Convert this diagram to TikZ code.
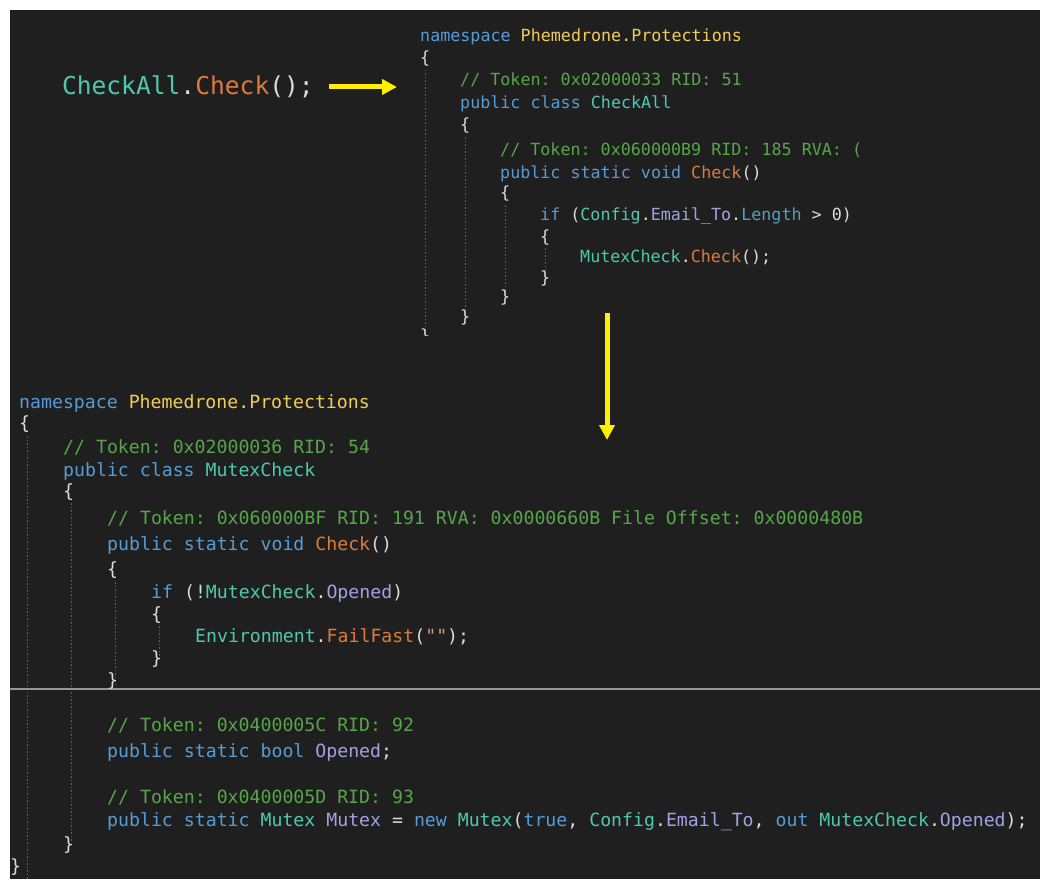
\documentclass[tikz,border=0pt]{standalone}
\usepackage{fontspec}
\newfontfamily\codefont{DejaVu Sans Mono}
\usetikzlibrary{arrows.meta}
\definecolor{bgdark}{RGB}{31,31,31}
\definecolor{kwblue}{RGB}{86,156,214}
\definecolor{cmgreen}{RGB}{87,166,74}
\definecolor{tyteal}{RGB}{78,201,176}
\definecolor{mtorange}{RGB}{222,122,60}
\definecolor{nsyellow}{RGB}{240,205,90}
\definecolor{fdlav}{RGB}{165,160,228}
\definecolor{lenblue}{RGB}{80,160,190}
\definecolor{strbrown}{RGB}{214,157,133}
\definecolor{plain}{RGB}{220,220,220}
\definecolor{arrowyellow}{RGB}{255,240,0}
\definecolor{guidegray}{RGB}{95,95,95}
\definecolor{divgray}{RGB}{150,150,150}
\newcommand{\ckw}[1]{\textcolor{kwblue}{#1}}
\newcommand{\ccm}[1]{\textcolor{cmgreen}{#1}}
\newcommand{\cty}[1]{\textcolor{tyteal}{#1}}
\newcommand{\cmt}[1]{\textcolor{mtorange}{#1}}
\newcommand{\cns}[1]{\textcolor{nsyellow}{#1}}
\newcommand{\cfd}[1]{\textcolor{fdlav}{#1}}
\newcommand{\clen}[1]{\textcolor{lenblue}{#1}}
\newcommand{\cstr}[1]{\textcolor{strbrown}{#1}}
\frenchspacing
\tikzstyle{topcode} = [anchor=base west, 
inner sep=0pt, 
text=plain, 
font=\codefont\frenchspacing\fontsize{16.7}{20}\selectfont]
\tikzstyle{botcode} = [anchor=base west, 
inner sep=0pt, 
text=plain, 
font=\codefont\frenchspacing\fontsize{18.2}{22}\selectfont]
\tikzstyle{callcode} = [anchor=base west, 
inner sep=0pt, 
outer xsep=15pt, 
text=plain, 
font=\codefont\fontsize{24.6}{28}\selectfont]
\tikzstyle{guide} = [draw=guidegray, line width=1pt, dash pattern=on 1.5pt off 2pt]
\tikzstyle{divider} = [draw=divgray, line width=2.5pt]
\tikzstyle{yarrow} = [line width=5pt, draw=arrowyellow, -{Triangle[length=15pt,width=15pt]}]

\begin{document}
\begin{tikzpicture}[x=1pt, y=-1pt]
		\useasboundingbox (0,0) rectangle (1054,888);
		\fill [bgdark] (10,10) rectangle (1040,879);
		% indent guides
		\draw [guide] (425,70) -- (425,336);
		\draw [guide] (465,137) -- (465,316);
		\draw [guide] (505,205) -- (505,296);
		\draw [guide] (545,248) -- (545,276);
		\draw [guide] (27,436) -- (27,879);
		\draw [guide] (71,503) -- (71,842);
		\draw [guide] (115,582) -- (115,684);
		\draw [guide] (159,626) -- (159,656);
		\draw [divider] (10,689) -- (1040,689);

		\node (call) [callcode] at (47,95) {\cty{CheckAll}.\cmt{Check}();};

		\node (t0) [topcode] at (420,41.5) {\ckw{namespace} \cns{Phemedrone.Protections}};
		\node (t1) [topcode] at (420,63.5) {\{};
		\node (t2) [topcode] at (460,85.5) {\ccm{// Token: 0x02000033 RID: 51}};
		\node (t3) [topcode] at (460,108.5) {\ckw{public class} \cty{CheckAll}};
		\node (t4) [topcode] at (460,130.5) {\{};
		\node (t5) [topcode] at (500,155.5) {\ccm{// Token: 0x060000B9 RID: 185 RVA: (}};
		\node (t6) [topcode] at (500,178.5) {\ckw{public static void} \cmt{Check}()};
		\node (t7) [topcode] at (500,198.5) {\{};
		\node (t8) [topcode] at (540,220.5) {\ckw{if} (\cty{Config}.\cfd{Email\_To}.\clen{Length} > 0)};
		\node (t9) [topcode] at (540,242.5) {\{};
		\node (t10) [topcode] at (580,262.5) {\cty{MutexCheck}.\cmt{Check}();};
		\node (t11) [topcode] at (540,283.5) {\}};
		\node (t12) [topcode] at (500,302.5) {\}};
		\node (t13) [topcode] at (460,322.5) {\}};
		\begin{scope}
			\clip (410,326) rectangle (440,335);
			\node (t14) [topcode] at (420,341) {\}};
		\end{scope}

		\node (b0) [botcode] at (19,408) {\ckw{namespace} \cns{Phemedrone.Protections}};
		\node (b1) [botcode] at (19,429) {\{};
		\node (b2) [botcode] at (63,453) {\ccm{// Token: 0x02000036 RID: 54}};
		\node (b3) [botcode] at (63,476) {\ckw{public class} \cty{MutexCheck}};
		\node (b4) [botcode] at (63,497) {\{};
		\node (b5) [botcode] at (107,524) {\ccm{// Token: 0x060000BF RID: 191 RVA: 0x0000660B File Offset: 0x0000480B}};
		\node (b6) [botcode] at (107,550) {\ckw{public static void} \cmt{Check}()};
		\node (b7) [botcode] at (107,575) {\{};
		\node (b8) [botcode] at (151,598) {\ckw{if} (!\cty{MutexCheck}.\cfd{Opened})};
		\node (b9) [botcode] at (151,620) {\{};
		\node (b10) [botcode] at (195,642) {\cty{Environment}.\cmt{FailFast}(\cstr{""});};
		\node (b11) [botcode] at (151,664) {\}};
		\node (b12) [botcode] at (107,686) {\}};

		\node (c0) [botcode] at (107,731) {\ccm{// Token: 0x0400005C RID: 92}};
		\node (c1) [botcode] at (107,757) {\ckw{public static bool} \cfd{Opened};};
		\node (c2) [botcode] at (107,803) {\ccm{// Token: 0x0400005D RID: 93}};
		\node (c3) [botcode] at (107,826) {\ckw{public static} \cty{Mutex} \cfd{Mutex} = \ckw{new} \cty{Mutex}(\ckw{true}, \cty{Config}.\cfd{Email\_To}, \ckw{out} \cty{MutexCheck}.\cfd{Opened});};
		\node (c4) [botcode] at (63,850) {\}};
		\node (c5) [botcode] at (10,872) {\}};

		\coordinate (hend) at (397,87);
		\draw [yarrow] (call.east |- hend) -- (hend);
		\coordinate (vtop) at (607,313);
		\coordinate (vend) at (607,440);
		\draw [yarrow] (vtop) -- (vend);
	\end{tikzpicture}
\end{document}
